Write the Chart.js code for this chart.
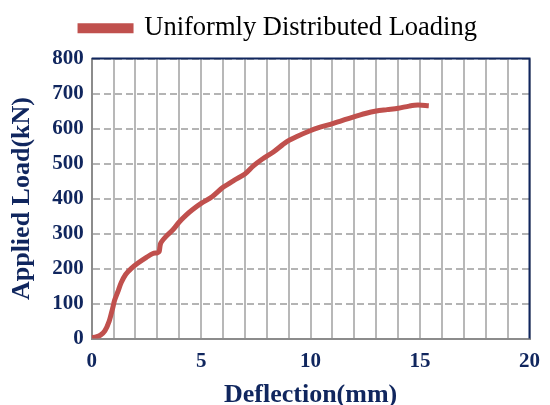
<!DOCTYPE html>
<html>
<head>
<meta charset="utf-8">
<script src="https://cdn.jsdelivr.net/npm/chart.js@4"></script>
<style>
    html, body { margin: 0; padding: 0; background: #fff; }
    #wrap { width: 550px; height: 405px; }
</style>
</head>
<body>
<div id="wrap"><canvas id="canvas"></canvas></div>
<script>
// Load-deflection curve
const deflection = [0, 0.2, 0.4, 0.6, 0.8, 0.95, 1.05, 1.2, 1.35, 1.55, 1.8, 2.1, 2.5, 2.8, 3.0, 3.08, 3.15, 3.4, 3.7, 4.0,
    4.3, 4.6, 5.0, 5.5, 6.0, 6.5, 7.0, 7.4, 7.8, 8.3, 8.9, 9.4, 9.95, 10.4, 10.9, 11.4, 11.9, 12.5, 13.0, 13.5,
    14.0, 14.5, 14.9, 15.4];
const load = [3, 5, 10, 22, 50, 85, 110, 135, 160, 183, 200, 215, 232, 243, 245, 248, 272, 292, 310, 333,
    352, 368, 386, 405, 432, 452, 470, 494, 513, 533, 562, 578, 593, 603, 612, 622, 632, 643, 650, 654,
    658, 664, 667, 665];
const seriesName = "Uniformly Distributed Loading";
const xLabelSteps = [0, 5, 10, 15, 20];

const navy = "#10265e";
const red = "#c0504d";
const serif = "'Liberation Serif', 'Times New Roman', serif";

// top and right frame of the plot area are dark blue in the original
const frameLines = {
    id: "frameLines",
    afterDraw(chart) {
        const { ctx, chartArea } = chart;
        ctx.save();
        ctx.strokeStyle = navy;
        ctx.lineWidth = 2;
        ctx.beginPath();
        ctx.moveTo(chartArea.left, chartArea.top);
        ctx.lineTo(chartArea.right, chartArea.top);
        ctx.lineTo(chartArea.right, chartArea.bottom);
        ctx.stroke();
        ctx.restore();
    }
};

// a bit more room under the legend
const legendGap = {
    id: "legendGap",
    beforeInit(chart) {
        const origFit = chart.legend.fit;
        chart.legend.fit = function () {
            origFit.bind(chart.legend)();
            this.height += 7;
        };
    }
};

new Chart(document.getElementById("canvas"), {
    type: "scatter",
    data: {
        datasets: [{
            label: seriesName,
            data: deflection.map((x, i) => ({ x: x, y: load[i] })),
            showLine: true,
            borderColor: red,
            backgroundColor: red,
            borderWidth: 5,
            pointRadius: 0,
            tension: 0.3
        }]
    },
    options: {
        responsive: true,
        maintainAspectRatio: false,
        animation: false,
        layout: { padding: { left: 7, right: 0, top: 3, bottom: -6 } },
        plugins: {
            legend: {
                position: "top",
                labels: {
                    boxWidth: 51,
                    boxHeight: 5,
                    padding: 12,
                    color: "#000",
                    font: { family: serif, size: 26.5 }
                }
            },
            tooltip: { enabled: false }
        },
        scales: {
            x: {
                type: "linear",
                min: 0,
                max: 20,
                ticks: {
                    stepSize: 1,
                    color: navy,
                    padding: 10,
                    maxRotation: 0,
                    autoSkip: false,
                    font: { family: serif, size: 21, weight: "bold" },
                    callback: (v) => xLabelSteps.includes(v) ? v : ""
                },
                grid: { color: "#b8b8b8", lineWidth: 2, drawTicks: false },
                border: { color: "#8c8c8c", width: 2 },
                title: {
                    display: true,
                    text: "Deflection(mm)",
                    color: navy,
                    padding: { top: -4, bottom: 0 },
                    font: { family: serif, size: 26, weight: "bold" }
                }
            },
            y: {
                min: 0,
                max: 800,
                ticks: {
                    stepSize: 100,
                    color: navy,
                    padding: 8,
                    font: { family: serif, size: 21, weight: "bold" }
                },
                grid: { color: "#b4b4b4", lineWidth: 2, drawTicks: false },
                border: { color: "#8c8c8c", width: 2, dash: [7, 4] },
                title: {
                    display: true,
                    text: "Applied Load(kN)",
                    color: navy,
                    padding: { top: 0, bottom: 6 },
                    font: { family: serif, size: 26, weight: "bold" }
                }
            }
        }
    },
    plugins: [frameLines, legendGap]
});
</script>
</body>
</html>
